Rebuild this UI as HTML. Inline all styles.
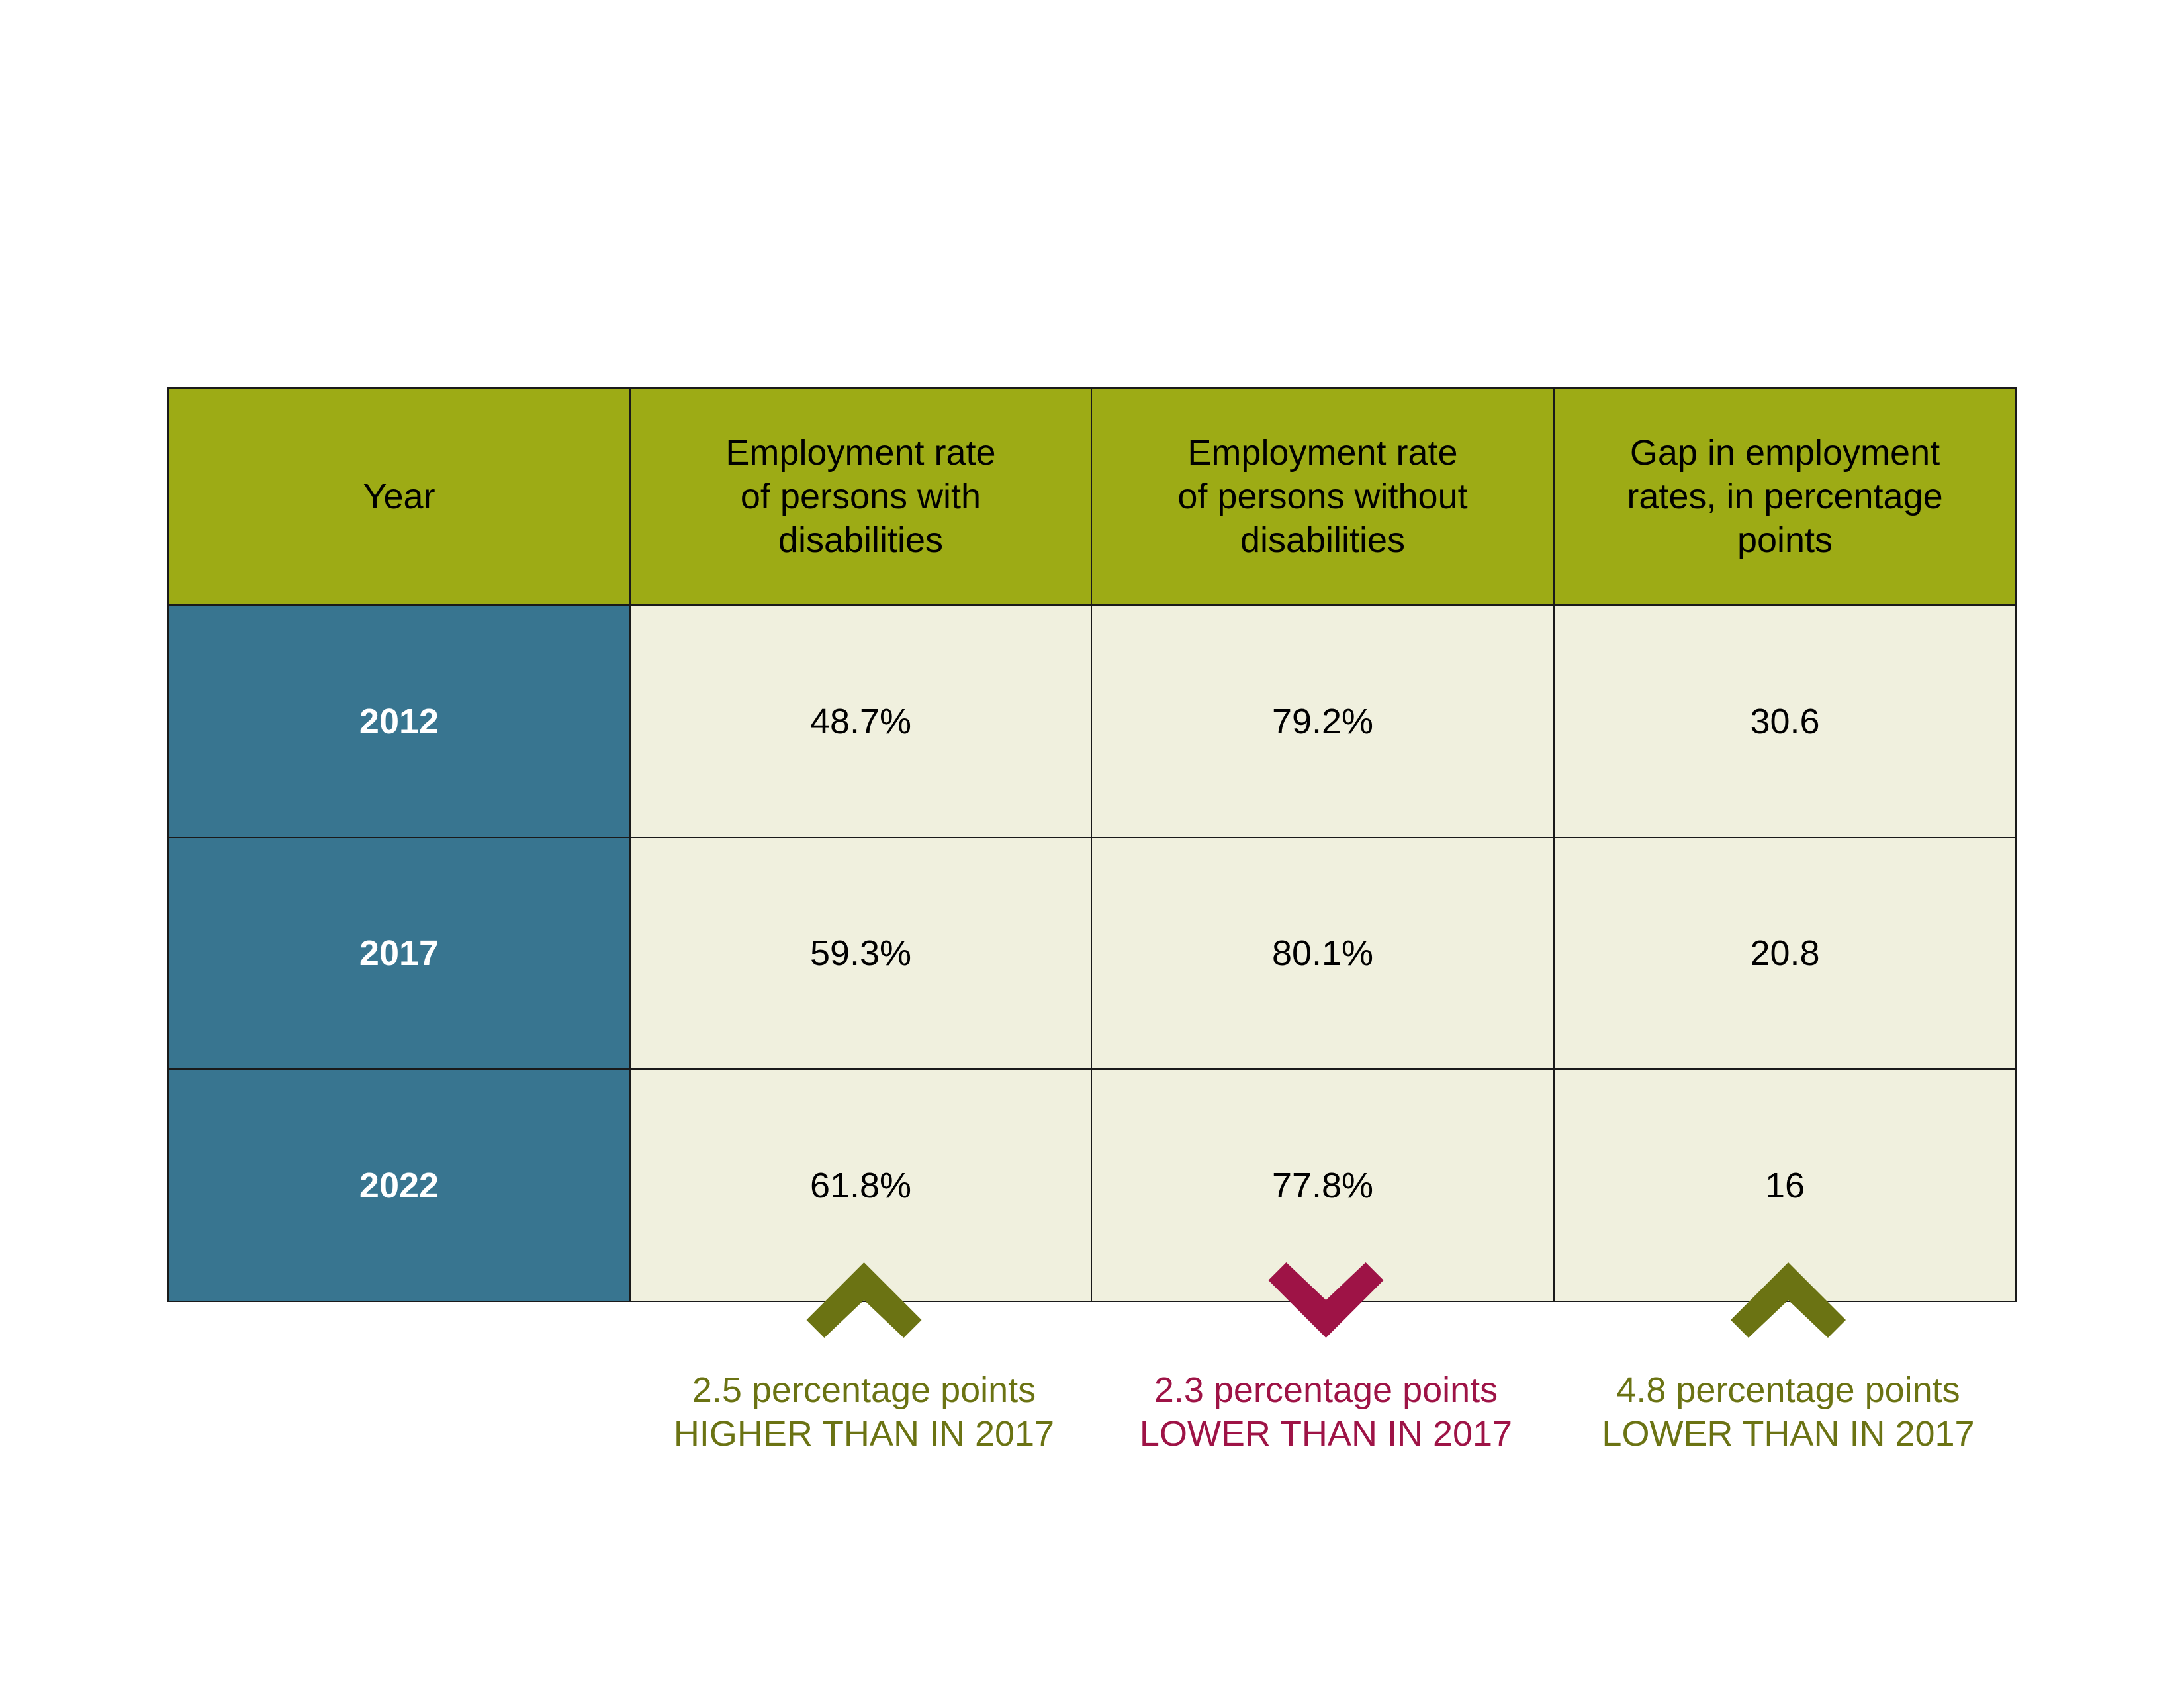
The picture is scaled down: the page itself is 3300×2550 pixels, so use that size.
<!DOCTYPE html>
<html><head><meta charset="utf-8"><style>
body{margin:0;width:3300px;height:2550px;background:#fff;position:relative;font-family:"Liberation Sans",sans-serif;overflow:hidden}
.c{position:absolute;box-sizing:border-box;border:2px solid #1a1a1a;display:flex;align-items:center;justify-content:center;text-align:center;font-size:54px;line-height:66px;color:#000}
.h{background:#9dab15}
.y{background:#387590;color:#fff;font-weight:bold}
.v{background:#f0f0de}
.note{position:absolute;width:700px;text-align:center;font-size:54px;line-height:66px}
</style></head><body>
<svg id="marks" width="3300" height="2550" style="position:absolute;left:0;top:0;z-index:2"></svg>
<script>
const years=["2012","2017","2022"];
const headers=["Year","Employment rate<br>of persons with<br>disabilities","Employment rate<br>of persons without<br>disabilities","Gap in employment<br>rates, in percentage<br>points"];
const withDis=["48.7%","59.3%","61.8%"];
const withoutDis=["79.2%","80.1%","77.8%"];
const gap=["30.6","20.8","16"];
const changeLine1=["2.5 percentage points","2.3 percentage points","4.8 percentage points"];
const changeLine2=["HIGHER THAN IN 2017","LOWER THAN IN 2017","LOWER THAN IN 2017"];
const changeDir=["up","down","up"];
const colX=[253,951,1648,2347,3045];
const rowY=[585,913,1264,1614,1965];
function cell(cls,x0,x1,y0,y1,html,name){
  const d=document.createElement('div');d.className='c '+cls;
  
  
  d.style.left=x0+'px';d.style.top=y0+'px';d.style.width=(x1-x0+2)+'px';d.style.height=(y1-y0+2)+'px';
  d.innerHTML=html;document.body.appendChild(d);
}
headers.forEach((h,i)=>cell('h',colX[i],colX[i+1],rowY[0],rowY[1],h,'header-cell'));
const cols=[years,withDis,withoutDis,gap];
years.forEach((yr,r)=>{
  cols.forEach((arr,c)=>cell(c==0?'y':'v',colX[c],colX[c+1],rowY[r+1],rowY[r+2],arr[r],c==0?'year-cell':'value-cell'));
});
const svg=document.getElementById('marks');
const colors={up:'#6b7313',down:'#9e1346'};
changeDir.forEach((dir,i)=>{
  const cx=(colX[i+1]+colX[i+2])/2+6;
  const col=colors[dir];
  const p=document.createElementNS('http://www.w3.org/2000/svg','polygon');
  
  
  let pts;
  if(dir=='up'){const t=1907;pts=[[0,0],[87,87],[60,114],[0,57],[-60,114],[-87,87]].map(a=>(cx+a[0])+','+(t+a[1]));}
  else{const b=2021;pts=[[0,0],[87,-87],[60,-114],[0,-57],[-60,-114],[-87,-87]].map(a=>(cx+a[0])+','+(b+a[1]));}
  p.setAttribute('points',pts.join(' '));p.setAttribute('fill',col);svg.appendChild(p);
  const n=document.createElement('div');n.className='note';
  
  
  n.style.left=(cx-350)+'px';n.style.top='2067px';n.style.color=col;
  n.innerHTML=changeLine1[i]+'<br>'+changeLine2[i];document.body.appendChild(n);
});
</script>
</body></html>
